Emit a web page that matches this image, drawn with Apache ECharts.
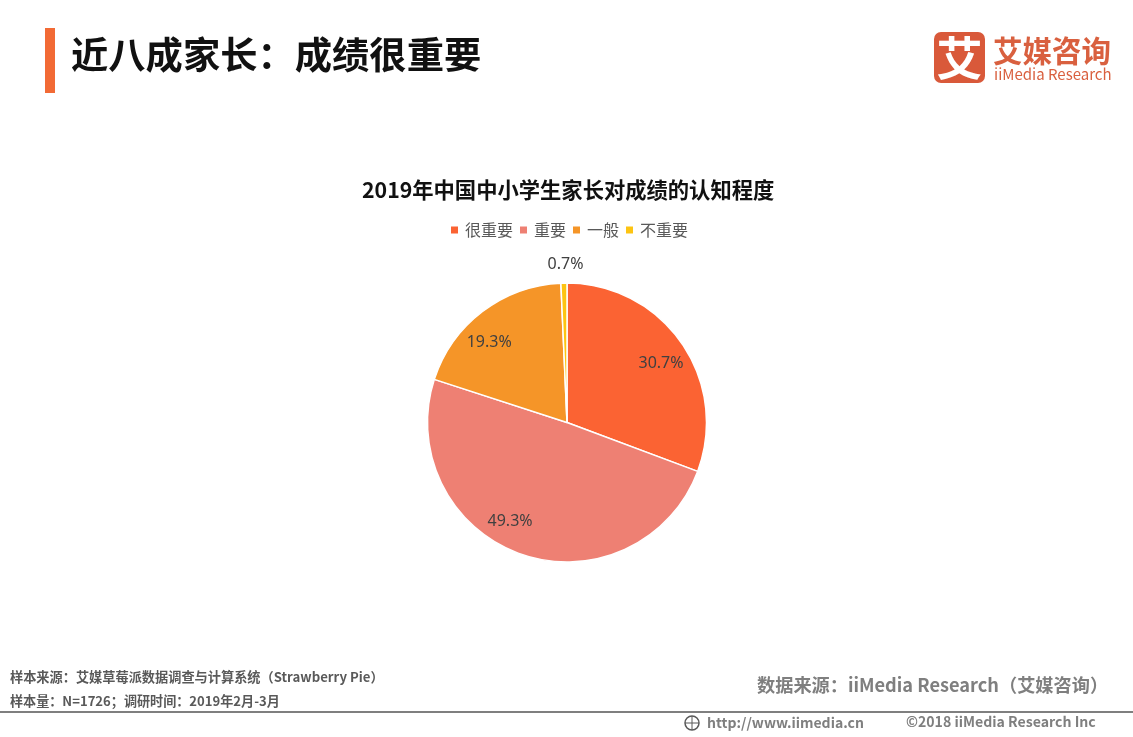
<!DOCTYPE html>
<html>
<head>
<meta charset="utf-8">
<script src="https://cdn.jsdelivr.net/npm/echarts@6/dist/echarts.min.js"></script>
<style>
html, body { margin: 0; padding: 0; background: #fff; }
#main { width: 1133px; height: 737px; }
</style>
</head>
<body>
<div id="main"></div>
<script>
var categories = ['很重要', '重要', '一般', '不重要'];
var values = [30.7, 49.3, 19.3, 0.7];
var colors = ['#FB6333', '#EE8073', '#F59528', '#FDC412'];

var heading = '近八成家长：成绩很重要';
var chartTitle = '2019年中国中小学生家长对成绩的认知程度';
var sourceLine1 = '样本来源：艾媒草莓派数据调查与计算系统（Strawberry Pie）';
var sourceLine2 = '样本量：N=1726；调研时间：2019年2月-3月';
var dataSource = '数据来源：iiMedia Research（艾媒咨询）';
var siteUrl = 'http://www.iimedia.cn';
var copyright = '©2018 iiMedia Research Inc';

var cjk = '"Noto Sans CJK SC", sans-serif';
var cx = 567, cy = 422.5;

function txt(x, y, text, size, color, weight, align) {
    return {
        type: 'text',
        x: x,
        y: y,
        style: {
            text: text,
            fontFamily: cjk,
            fontSize: size,
            fontWeight: weight || 'normal',
            fill: color,
            align: align || 'left',
            verticalAlign: 'middle'
        }
    };
}

var chart = echarts.init(document.getElementById('main'));
chart.setOption({
    animation: false,
    backgroundColor: '#fff',
    title: {
        text: chartTitle,
        left: 357,
        top: 174,
        textStyle: { fontFamily: cjk, fontSize: 21.3, fontWeight: 'bold', color: '#111' }
    },
    legend: {
        data: categories,
        top: 217,
        left: 444,
        icon: 'rect',
        itemWidth: 9,
        itemHeight: 9,
        itemGap: 5,
        textStyle: { fontFamily: cjk, fontSize: 16, color: '#595959', padding: [0, 0, 0, 1] }
    },
    color: colors,
    series: [{
        type: 'pie',
        center: [cx, cy],
        radius: [0, 139.5],
        startAngle: 90,
        clockwise: true,
        itemStyle: { borderColor: '#fff', borderWidth: 1.5 },
        label: {
            show: true,
            position: 'inside',
            formatter: function (p) { return p.value + '%'; },
            fontFamily: '"Noto Sans", sans-serif',
            fontSize: 16,
            color: '#404040'
        },
        labelLine: { show: false },
        // move the labels out along their radius, then nudge to where the original has them
        labelLayout: function (p) {
            var nudge = [[2, 5], [-20, -7], [-10, 9], [2, 1]][p.dataIndex];
            var mx = p.labelRect.x + p.labelRect.width / 2 - cx;
            var my = p.labelRect.y + p.labelRect.height / 2 - cy;
            var d = Math.sqrt(mx * mx + my * my);
            var target = p.dataIndex == 3 ? 159 : 112;
            return {
                dx: mx / d * (target - d) + nudge[0],
                dy: my / d * (target - d) + nudge[1]
            };
        },
        data: categories.map(function (c, i) {
            return { name: c, value: values[i] };
        })
    }],
    graphic: [
        { type: 'rect', shape: { x: 45, y: 28, width: 10, height: 65 }, style: { fill: '#F26A35' } },
        txt(71, 55, heading, 37.3, '#111', 'bold'),
        // logo
        { type: 'rect', shape: { x: 934, y: 32, width: 51, height: 51, r: 7 }, style: { fill: '#D9593A' } },
        txt(959.5, 58, '艾', 46, '#fff', 'bold', 'center'),
        txt(993, 51, '艾媒咨询', 29.5, '#D9603F', 'bold'),
        txt(994, 74, 'iiMedia Research', 15, '#D9603F'),
        // footer
        txt(10, 677, sourceLine1, 13.2, '#595959', 'bold'),
        txt(10, 701, sourceLine2, 13.1, '#595959', 'bold'),
        txt(757, 685, dataSource, 18.2, '#7F7F7F', 'bold'),
        { type: 'rect', shape: { x: 0, y: 711, width: 1133, height: 2 }, style: { fill: '#7F7F7F' } },
        { type: 'circle', shape: { cx: 692, cy: 723, r: 7 }, style: { fill: 'none', stroke: '#595959', lineWidth: 1.5 } },
        { type: 'line', shape: { x1: 685, y1: 723, x2: 699, y2: 723 }, style: { stroke: '#595959', lineWidth: 1 } },
        { type: 'line', shape: { x1: 692, y1: 716, x2: 692, y2: 730 }, style: { stroke: '#595959', lineWidth: 1 } },
        txt(707, 723, siteUrl, 14, '#7F7F7F', 'bold'),
        txt(906, 722, copyright, 14.1, '#7F7F7F', 'bold')
    ]
});
</script>
</body>
</html>
